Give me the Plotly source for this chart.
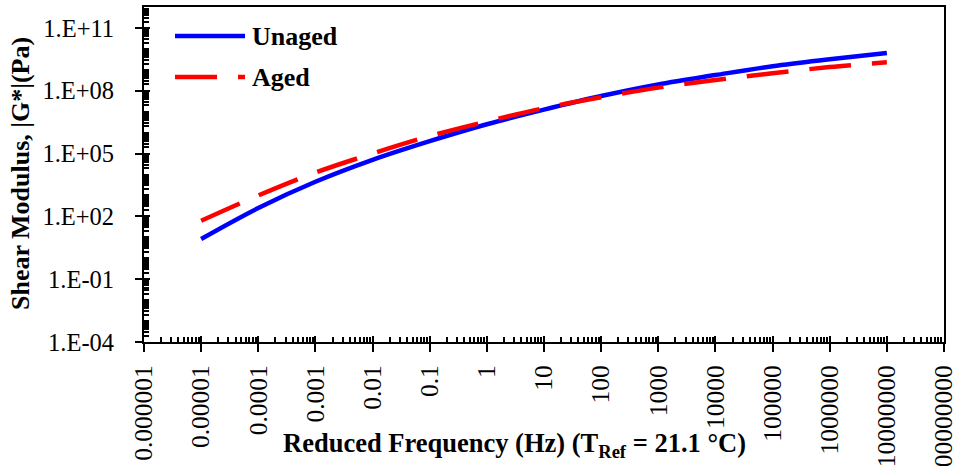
import plotly.graph_objects as go

# Reduced frequency (Hz) at which the master curves are evaluated
freq_hz = [1e-5, 1e-4, 1e-3, 1e-2, 1e-1, 1e0, 1e1, 1e2, 1e3, 1e4, 1e5, 1e6, 1e7]

# Dynamic shear modulus |G*| (Pa)
unaged_g = [8.3, 2.51e2, 4.5e3, 5.0e4, 3.9e5, 2.5e6, 1.26e7, 5.6e7, 2.0e8, 5.6e8, 1.48e9, 3.16e9, 6.3e9]
aged_g = [62, 1.0e3, 1.23e4, 1.0e5, 6.8e5, 3.4e6, 1.48e7, 4.9e7, 1.41e8, 3.24e8, 6.9e8, 1.35e9, 2.29e9]

# Axis ticks
x_tickvals = [1e-6, 1e-5, 1e-4, 1e-3, 1e-2, 1e-1, 1e0, 1e1, 1e2, 1e3, 1e4, 1e5, 1e6, 1e7, 1e8]
x_ticktext = ["0.000001", "0.00001", "0.0001", "0.001", "0.01", "0.1", "1", "10", "100",
              "1000", "10000", "100000", "1000000", "10000000", "100000000"]
y_tickvals = [1e-4, 1e-1, 1e2, 1e5, 1e8, 1e11]
y_ticktext = ["1.E-04", "1.E-01", "1.E+02", "1.E+05", "1.E+08", "1.E+11"]

FONT = "Liberation Serif, Times New Roman, serif"
W, H = 956, 466
L, R, T, B = 144, 12, 7, 124

x_minor = [d * 10 ** k for k in range(-6, 8) for d in range(2, 10)]
y_minor = [d * 10 ** k for k in range(-4, 12) for d in range(1, 10)
           if d * 10 ** k not in y_tickvals]

fig = go.Figure()
fig.add_trace(go.Scatter(x=freq_hz, y=unaged_g, mode="lines", name="Unaged",
                         line=dict(color="#0000FF", width=4.5, shape="spline"),
                         xaxis="x", yaxis="y"))
fig.add_trace(go.Scatter(x=freq_hz, y=aged_g, mode="lines", name="Aged",
                         line=dict(color="#FF0000", width=4.5, shape="spline", dash="42px,21px"),
                         xaxis="x", yaxis="y"))

axis_common = dict(type="log", showgrid=False, zeroline=False, tickcolor="black",
                   tickwidth=2, automargin=False)

fig.update_layout(
    width=W, height=H,
    margin=dict(l=L, r=R, t=T, b=B, pad=0, autoexpand=False),
    paper_bgcolor="white", plot_bgcolor="white",
    showlegend=False,
    font=dict(family=FONT, color="black"),
    xaxis=dict(**axis_common, range=[-6, 8], tickmode="array", tickvals=x_tickvals,
               ticktext=x_ticktext, tickangle=-90, ticks="outside", ticklen=8,
               showline=True, linecolor="black", linewidth=2, mirror=True,
               tickfont=dict(size=25.5, family=FONT), ticklabelstandoff=3,
               ticklabeloverflow="allow"),
    yaxis=dict(**axis_common, range=[-4, 12], tickmode="array", tickvals=y_tickvals,
               ticktext=y_ticktext, ticks="outside", ticklen=7,
               showline=True, linecolor="black", linewidth=2, mirror=True,
               tickfont=dict(size=24.5, family=FONT), ticklabelstandoff=16,
               ticklabeloverflow="allow"),
    # overlay axes carry the inward part of the major ticks and the minor ticks
    xaxis2=dict(**axis_common, range=[-6, 8], overlaying="x", anchor="y", side="bottom",
                tickmode="array", tickvals=x_tickvals, ticks="inside", ticklen=6,
                showticklabels=False, showline=False,
                minor=dict(tickmode="array", tickvals=x_minor, ticks="inside", ticklen=5,
                           tickcolor="black", tickwidth=1.5, showgrid=False)),
    yaxis2=dict(**axis_common, range=[-4, 12], overlaying="y", anchor="x", side="left",
                tickmode="array", tickvals=y_tickvals, ticks="inside", ticklen=6,
                showticklabels=False, showline=False,
                minor=dict(tickmode="array", tickvals=y_minor, ticks="inside", ticklen=5,
                           tickcolor="black", tickwidth=1.5, showgrid=False)),
)

# invisible trace so the overlay axes are drawn
fig.add_trace(go.Scatter(x=[1e-6], y=[1e-4], mode="markers", marker=dict(opacity=0),
                         xaxis="x2", yaxis="y2", hoverinfo="skip", showlegend=False))


def px_x(p):
    return (p - L) / (W - L - R)


def px_y(p):
    return (H - B - p) / (H - B - T)


# legend
fig.add_shape(type="line", xref="paper", yref="paper", x0=px_x(175), x1=px_x(245),
              y0=px_y(36), y1=px_y(36), line=dict(color="#0000FF", width=4.5))
fig.add_shape(type="line", xref="paper", yref="paper", x0=px_x(175), x1=px_x(245),
              y0=px_y(77), y1=px_y(77), line=dict(color="#FF0000", width=4.5, dash="42px,21px"))
for label, yp in (("Unaged", 36), ("Aged", 77)):
    fig.add_annotation(text=f"<b>{label}</b>", xref="paper", yref="paper",
                       x=px_x(250), y=px_y(yp), xanchor="left", yanchor="middle",
                       showarrow=False, font=dict(size=26, family=FONT, color="black"))

# axis titles
fig.add_annotation(text="<b>Reduced Frequency (Hz) (T<sub>Ref</sub> = 21.1 °C)</b>",
                   xref="paper", yref="paper", x=px_x(514), y=px_y(445),
                   xanchor="center", yanchor="middle", showarrow=False,
                   font=dict(size=26.5, family=FONT, color="black"))
fig.add_annotation(text="<b>Shear Modulus, |G*|(Pa)</b>",
                   xref="paper", yref="paper", x=px_x(20), y=px_y(174),
                   xanchor="center", yanchor="middle", textangle=-90, showarrow=False,
                   font=dict(size=26, family=FONT, color="black"))

fig.write_html("out.html")
